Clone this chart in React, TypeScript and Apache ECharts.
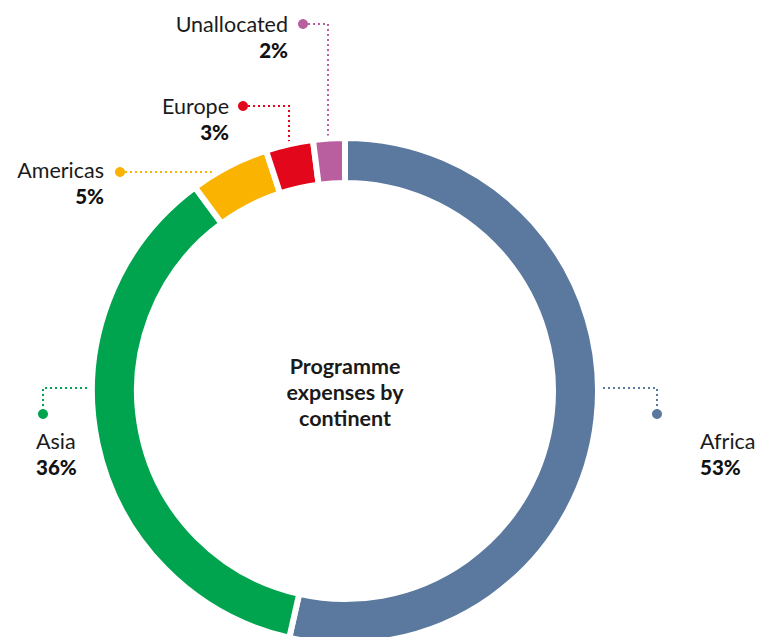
import React, { useEffect, useRef } from "react";
import * as echarts from "echarts";

const categories = ["Africa", "Asia", "Americas", "Europe", "Unallocated"];
const values = [53, 36, 5, 3, 2];
const colors = ["#5b789e", "#00a44f", "#f9b300", "#e2071a", "#b95e9f"];
const centerTitle = "Programme\nexpenses by\ncontinent";

const CX = 345;
const CY = 391;
const R_IN = 208;
const R_OUT = 253;
const FONT = "Lato, 'Noto Sans', sans-serif";
const LINE = 25.5;

export default function App() {
  const ref = useRef<HTMLDivElement>(null);
  useEffect(() => {
    document.body.style.margin = "0";
    if (!ref.current) return;
    const chart = echarts.init(ref.current, null, { renderer: "svg" });
    const total = values.reduce((a, b) => a + b, 0);
    const mids: number[] = [];
    let acc = 0;
    values.forEach((v) => {
      mids.push(((acc + v / 2) / total) * 360);
      acc += v;
    });
    const outerPt = (deg: number) => {
      const a = (deg * Math.PI) / 180;
      return [CX + R_OUT * Math.sin(a), CY - R_OUT * Math.cos(a)];
    };
    const graphics: any[] = [];
    const dash = (i: number) => ({
      stroke: colors[i],
      lineWidth: 2,
      lineDash: [2, 3],
      fill: "none",
    });
    const dot = (i: number, x: number, y: number) => ({
      type: "circle",
      shape: { cx: x, cy: y, r: 5 },
      style: { fill: colors[i] },
      z: 10,
    });
    const label = (
      i: number,
      x: number,
      y: number,
      align: "left" | "right"
    ) => [
      {
        type: "text",
        x,
        y,
        style: {
          text: categories[i],
          font: `21.5px ${FONT}`,
          fill: "#1a1a1a",
          align,
          verticalAlign: "middle",
        },
        z: 10,
      },
      {
        type: "text",
        x,
        y: y + LINE,
        style: {
          text: `${values[i]}%`,
          font: `900 20.5px ${FONT}`,
          fill: "#111",
          align,
          verticalAlign: "middle",
        },
        z: 10,
      },
    ];
    // Africa (right)
    {
      const i = 0;
      const x0 = CX + R_OUT;
      graphics.push({
        type: "polyline",
        shape: { points: [[x0, CY - 3], [657, CY - 3], [657, 414]] },
        style: dash(i),
      });
      graphics.push(dot(i, 657, 414));
      graphics.push(...label(i, 700, 441, "left"));
    }
    // Asia (left)
    {
      const i = 1;
      const x0 = CX - R_OUT;
      graphics.push({
        type: "polyline",
        shape: { points: [[x0, CY - 3], [43, CY - 3], [43, 414]] },
        style: dash(i),
      });
      graphics.push(dot(i, 43, 414));
      graphics.push(...label(i, 36, 441, "left"));
    }
    // Americas
    {
      const i = 2;
      const y = 172;
      const xEdge = CX - Math.sqrt(R_OUT * R_OUT - (CY - y) * (CY - y));
      graphics.push({
        type: "polyline",
        shape: { points: [[120, y], [xEdge + 2, y]] },
        style: dash(i),
      });
      graphics.push(dot(i, 120, y));
      graphics.push(...label(i, 104, 170, "right"));
    }
    // Europe
    {
      const i = 3;
      const p = outerPt(mids[i]);
      const px = Math.round(p[0]);
      graphics.push({
        type: "polyline",
        shape: { points: [[243, 106], [px, 106], [px, p[1] + 2]] },
        style: dash(i),
      });
      graphics.push(dot(i, 243, 106));
      graphics.push(...label(i, 229, 106, "right"));
    }
    // Unallocated
    {
      const i = 4;
      const p = outerPt(mids[i]);
      const px = Math.round(p[0]) - 1;
      graphics.push({
        type: "polyline",
        shape: { points: [[303, 24], [px, 24], [px, p[1] + 2]] },
        style: dash(i),
      });
      graphics.push(dot(i, 303, 24));
      graphics.push(...label(i, 288, 24, "right"));
    }
    graphics.push({
      type: "text",
      x: CX,
      y: 392,
      style: {
        text: centerTitle,
        font: `bold 21.5px ${FONT}`,
        fill: "#1a1a1a",
        align: "center",
        verticalAlign: "middle",
        lineHeight: 26,
      },
    });

    chart.setOption({
      animation: false,
      backgroundColor: "#ffffff",
      graphic: graphics,
      series: [
        {
          type: "pie",
          center: [CX, CY],
          radius: [R_IN, R_OUT],
          startAngle: 90,
          clockwise: true,
          silent: true,
          label: { show: false },
          labelLine: { show: false },
          itemStyle: { borderColor: "#ffffff", borderWidth: 6 },
          data: categories.map((name, i) => ({
            name,
            value: values[i],
            itemStyle: { color: colors[i] },
          })),
        },
      ],
    });
    return () => chart.dispose();
  }, []);
  return <div ref={ref} style={{ width: 771, height: 637 }} />;
}
